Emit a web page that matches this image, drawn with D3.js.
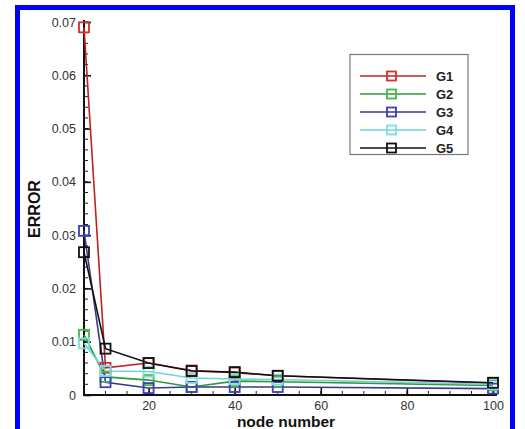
<!DOCTYPE html>
<html><head><meta charset="utf-8">
<script src="https://cdn.jsdelivr.net/npm/d3@7"></script>
<style>body{margin:0;background:#fff}svg{display:block}</style>
</head><body><svg id="c" width="525" height="429"></svg>
<script>
const nodes = [5, 10, 20, 30, 40, 50, 100];
const seriesNames = ["G1", "G2", "G3", "G4", "G5"];
const G1 = [0.069, 0.0051, 0.0060, 0.0046, 0.0042, 0.0036, 0.0022];
const G2 = [0.0113, 0.0034, 0.0028, 0.0015, 0.0026, 0.0025, 0.0018];
const G3 = [0.0308, 0.0024, 0.0013, 0.0015, 0.0015, 0.0015, 0.0012];
const G4 = [0.0097, 0.0045, 0.0044, 0.0032, 0.0030, 0.0029, 0.0020];
const G5 = [0.0268, 0.0087, 0.0060, 0.0045, 0.0043, 0.0036, 0.0023];
const xTicks = [20, 40, 60, 80, 100];
const yTicks = [0, 0.01, 0.02, 0.03, 0.04, 0.05, 0.06, 0.07];
const yTickLabels = ["0", "0.01", "0.02", "0.03", "0.04", "0.05", "0.06", "0.07"];
const allSeries = [G1, G2, G3, G4, G5];
const lineColors = ["#b8261f", "#2f9a3a", "#3a3a8c", "#6fd2dc", "#111111"];
const markColors = ["#d2302a", "#47b544", "#3d3dba", "#7fdce4", "#111111"];

const svg = d3.select("#c");
svg.append("rect").attr("x", 17.5).attr("y", 7.5).attr("width", 495).attr("height", 440)
  .attr("fill", "none").attr("stroke", "#0000ff").attr("stroke-width", 5);

const x = d3.scaleLinear().domain([5, 100]).range([84, 493]);
const y = d3.scaleLinear().domain([0, 0.07]).range([395, 22]);
const font = "Liberation Sans, Arial, sans-serif";

// minor ticks
const g = svg.append("g");
d3.range(0, 0.0701, 0.002).forEach(v => {
  g.append("line").attr("x1", 84).attr("x2", 88).attr("y1", y(v)).attr("y2", y(v)).attr("stroke", "#222").attr("stroke-width", 1);
});
d3.range(5, 100.1, 5).forEach(v => {
  g.append("line").attr("x1", x(v)).attr("x2", x(v)).attr("y1", 395).attr("y2", 391).attr("stroke", "#222").attr("stroke-width", 1);
});
// axes
const yAxis = d3.axisRight(y).tickValues(yTicks).tickSize(7).tickFormat((d, i) => yTickLabels[i]);
const ya = svg.append("g").attr("transform", "translate(84,0)").call(yAxis);
ya.select(".domain").remove();
ya.selectAll("line").attr("stroke", "#111").attr("stroke-width", 1.6);
ya.selectAll("text").attr("x", -8).attr("text-anchor", "end").attr("font-family", font).attr("font-size", 12.5).attr("fill", "#333");
svg.append("line").attr("x1", 84).attr("x2", 84).attr("y1", 20).attr("y2", 396).attr("stroke", "#111").attr("stroke-width", 2);

const xAxis = d3.axisTop(x).tickValues(xTicks).tickSize(7).tickFormat(d3.format("d"));
const xa = svg.append("g").attr("transform", "translate(0,395)").call(xAxis);
xa.select(".domain").remove();
xa.selectAll("line").attr("stroke", "#111").attr("stroke-width", 1.6);
xa.selectAll("text").attr("y", 15).attr("dy", 0).attr("font-family", font).attr("font-size", 12.5).attr("fill", "#333");
svg.append("line").attr("x1", 83).attr("x2", 497).attr("y1", 395).attr("y2", 395).attr("stroke", "#111").attr("stroke-width", 2);

// series
const line = d3.line().x((d, i) => x(nodes[i])).y(d => y(d));
allSeries.forEach((s, k) => {
  svg.append("path").datum(s).attr("d", line).attr("fill", "none")
    .attr("stroke", lineColors[k]).attr("stroke-width", 1.6);
});
allSeries.forEach((s, k) => {
  svg.append("g").selectAll("rect").data(s).join("rect")
    .attr("x", (d, i) => x(nodes[i]) - 5).attr("y", d => y(d) - 5)
    .attr("width", 10).attr("height", 10).attr("fill", "none")
    .attr("stroke", markColors[k]).attr("stroke-width", 1.8);
});

// axis titles
svg.append("text").attr("transform", "translate(40,209) rotate(-90)").attr("text-anchor", "middle")
  .attr("font-family", font).attr("font-weight", "bold").attr("font-size", 16).attr("fill", "#111").text("ERROR");
svg.append("text").attr("x", 286).attr("y", 427).attr("text-anchor", "middle")
  .attr("font-family", font).attr("font-weight", "bold").attr("font-size", 15.5).attr("fill", "#111").text("node number");

// legend
const lg = svg.append("g");
lg.append("rect").attr("x", 350).attr("y", 54.5).attr("width", 118).attr("height", 100)
  .attr("fill", "#fff").attr("stroke", "#777").attr("stroke-width", 1.2);
seriesNames.forEach((n, k) => {
  const yy = 76 + k * 18;
  lg.append("line").attr("x1", 360).attr("x2", 426).attr("y1", yy).attr("y2", yy)
    .attr("stroke", lineColors[k]).attr("stroke-width", 1.6);
  lg.append("rect").attr("x", 387).attr("y", yy - 4.5).attr("width", 9).attr("height", 9)
    .attr("fill", "none").attr("stroke", markColors[k]).attr("stroke-width", 1.8);
  lg.append("text").attr("x", 436).attr("y", yy).attr("dy", "0.36em")
    .attr("font-family", font).attr("font-weight", "bold").attr("font-size", 13).attr("fill", "#222").text(n);
});
</script></body></html>
